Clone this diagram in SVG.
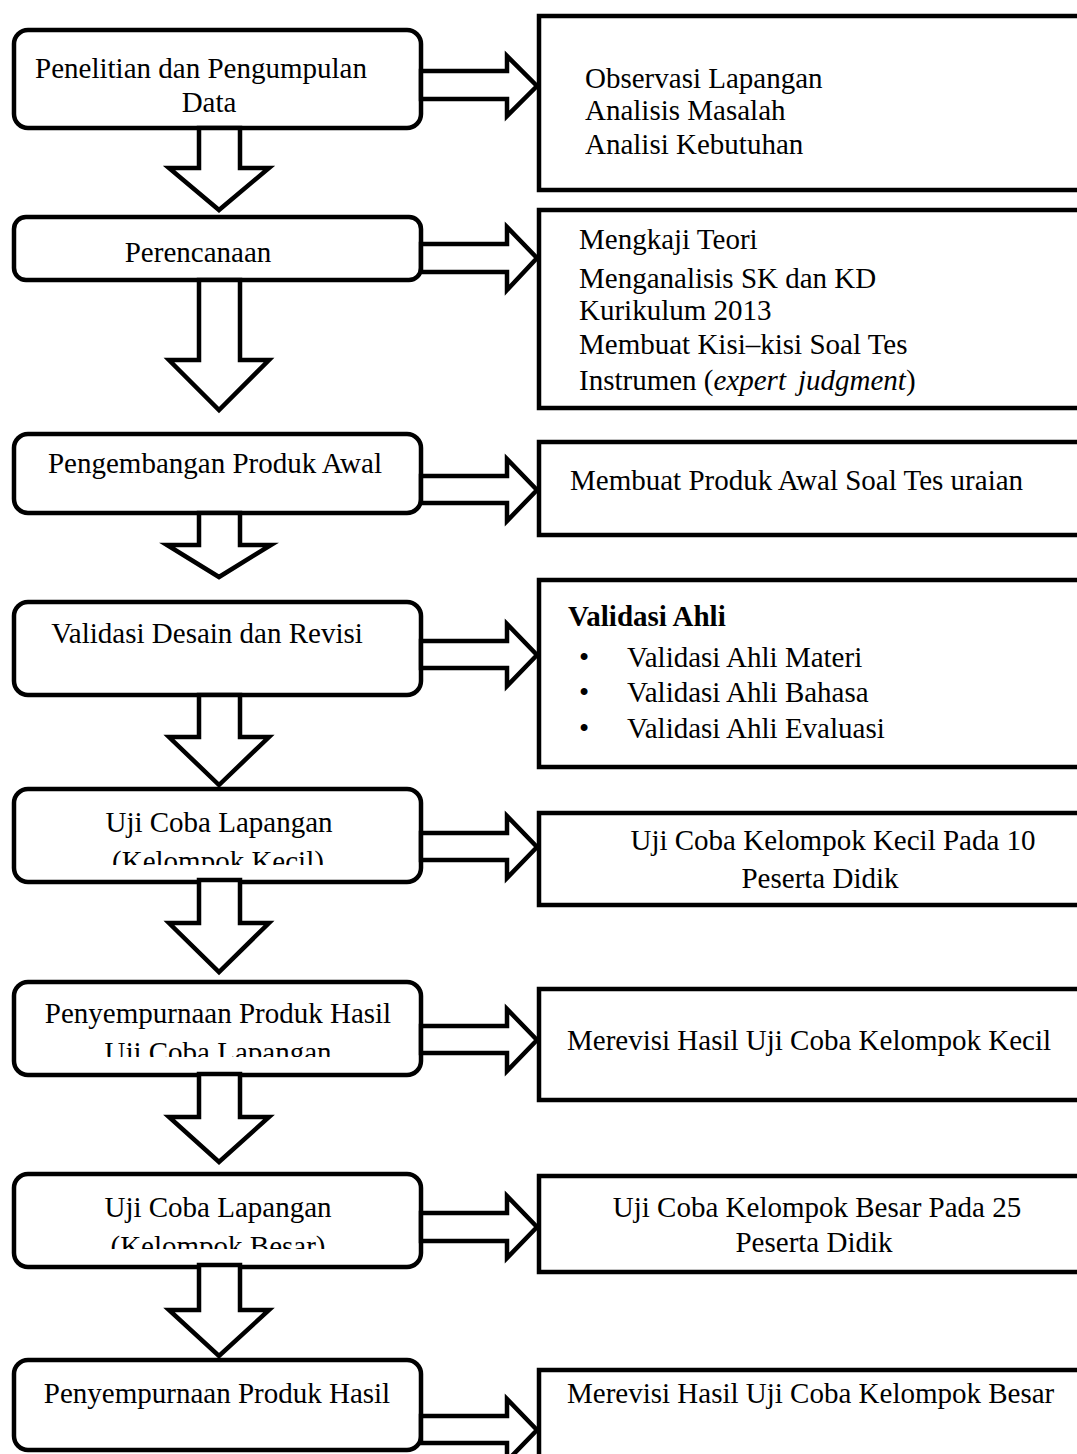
<svg xmlns="http://www.w3.org/2000/svg" width="1077" height="1454" viewBox="0 0 1077 1454">
<style>
  text { font-family: "Liberation Serif", "Times New Roman", serif; font-size: 29px; fill: #000; }
  .c { text-anchor: middle; }
  .lbox { fill: #fff; stroke: #000; stroke-width: 4.5; }
  .rbox { fill: #fff; stroke: #000; stroke-width: 4.5; }
  .arr { fill: #fff; stroke: #000; stroke-width: 4.5; stroke-linejoin: miter; }
  .b { font-weight: bold; }
  .i { font-style: italic; }
</style>
<defs>
  <clipPath id="clip5"><rect x="14" y="789" width="407" height="76"/></clipPath>
  <clipPath id="clip6"><rect x="14" y="982" width="407" height="75"/></clipPath>
  <clipPath id="clip7"><rect x="14" y="1174" width="407" height="75"/></clipPath>
</defs>
<rect width="1077" height="1454" fill="#fff"/>

<!-- Left column nodes -->
<g id="n1">
  <rect class="lbox" x="14" y="30" width="407" height="98" rx="14"/>
  <text class="c" x="201" y="78">Penelitian dan Pengumpulan</text>
  <text class="c" x="209" y="112">Data</text>
</g>
<g id="n2">
  <rect class="lbox" x="14" y="217" width="407" height="63" rx="12"/>
  <text class="c" x="198" y="262">Perencanaan</text>
</g>
<g id="n3">
  <rect class="lbox" x="14" y="434" width="407" height="79" rx="14"/>
  <text class="c" x="215" y="473">Pengembangan Produk Awal</text>
</g>
<g id="n4">
  <rect class="lbox" x="14" y="602" width="407" height="93" rx="14"/>
  <text class="c" x="207" y="643">Validasi Desain dan Revisi</text>
</g>
<g id="n5">
  <rect class="lbox" x="14" y="789" width="407" height="93" rx="14"/>
  <g clip-path="url(#clip5)">
    <text class="c" x="219" y="832">Uji Coba Lapangan</text>
    <text class="c" x="218" y="871">(Kelompok Kecil)</text>
  </g>
</g>
<g id="n6">
  <rect class="lbox" x="14" y="982" width="407" height="93" rx="14"/>
  <g clip-path="url(#clip6)">
    <text class="c" x="218" y="1023">Penyempurnaan Produk Hasil</text>
    <text class="c" x="218" y="1062">Uji Coba Lapangan</text>
  </g>
</g>
<g id="n7">
  <rect class="lbox" x="14" y="1174" width="407" height="93" rx="14"/>
  <g clip-path="url(#clip7)">
    <text class="c" x="218" y="1217">Uji Coba Lapangan</text>
    <text class="c" x="218" y="1256">(Kelompok Besar)</text>
  </g>
</g>
<g id="n8">
  <rect class="lbox" x="14" y="1360" width="407" height="90" rx="14"/>
  <text class="c" x="217" y="1403">Penyempurnaan Produk Hasil</text>
</g>

<!-- Right column nodes -->
<g id="r1">
  <rect class="rbox" x="539" y="16" width="560" height="174"/>
  <text x="585" y="88">Observasi Lapangan</text>
  <text x="585" y="120">Analisis Masalah</text>
  <text x="585" y="154">Analisi Kebutuhan</text>
</g>
<g id="r2">
  <rect class="rbox" x="539" y="210" width="560" height="198"/>
  <text x="579" y="249">Mengkaji Teori</text>
  <text x="579" y="288">Menganalisis SK dan KD</text>
  <text x="579" y="320">Kurikulum 2013</text>
  <text x="579" y="354">Membuat Kisi–kisi Soal Tes</text>
  <text x="579" y="390">Instrumen (<tspan class="i">expert</tspan><tspan class="i" dx="12">judgment</tspan>)</text>
</g>
<g id="r3">
  <rect class="rbox" x="539" y="442" width="560" height="93"/>
  <text x="570" y="490">Membuat Produk Awal Soal Tes uraian</text>
</g>
<g id="r4">
  <rect class="rbox" x="539" y="580" width="560" height="187"/>
  <text class="b" x="568" y="626">Validasi Ahli</text>
  <text x="579" y="667">•</text>
  <text x="627" y="667">Validasi Ahli Materi</text>
  <text x="579" y="702">•</text>
  <text x="627" y="702">Validasi Ahli Bahasa</text>
  <text x="579" y="738">•</text>
  <text x="627" y="738">Validasi Ahli Evaluasi</text>
</g>
<g id="r5">
  <rect class="rbox" x="539" y="813" width="560" height="92"/>
  <text class="c" x="833" y="850">Uji Coba Kelompok Kecil Pada 10</text>
  <text class="c" x="820" y="888">Peserta Didik</text>
</g>
<g id="r6">
  <rect class="rbox" x="539" y="989" width="560" height="111"/>
  <text x="567" y="1050">Merevisi Hasil Uji Coba Kelompok Kecil</text>
</g>
<g id="r7">
  <rect class="rbox" x="539" y="1176" width="560" height="96"/>
  <text class="c" x="817" y="1217">Uji Coba Kelompok Besar Pada 25</text>
  <text class="c" x="814" y="1252">Peserta Didik</text>
</g>
<g id="r8">
  <rect class="rbox" x="539" y="1370" width="560" height="100"/>
  <text x="567" y="1403">Merevisi Hasil Uji Coba Kelompok Besar</text>
</g>

<!-- Connectors -->
<g id="connectors">
  <!-- down arrows -->
  <polygon class="arr" points="199,128 240,128 240,168 269,168 219,210 169,168 199,168"/>
  <polygon class="arr" points="199,280 240,280 240,360 269,360 219,410 169,360 199,360"/>
  <polygon class="arr" points="199,513 240,513 240,545 271,545 219,577 167,545 199,545"/>
  <polygon class="arr" points="199,695 240,695 240,737 269,737 219,785 169,737 199,737"/>
  <polygon class="arr" points="199,880 240,880 240,923 269,923 219,972 169,923 199,923"/>
  <polygon class="arr" points="199,1074 240,1074 240,1117 269,1117 219,1162 169,1117 199,1117"/>
  <polygon class="arr" points="199,1265 240,1265 240,1310 269,1310 219,1356 169,1310 199,1310"/>
  <!-- right arrows -->
  <polygon class="arr" points="421,71 507,71 507,56 537,86 507,116 507,99 421,99"/>
  <polygon class="arr" points="421,244 507,244 507,227 537,258 507,290 507,272 421,272"/>
  <polygon class="arr" points="421,476 507,476 507,459 537,490 507,521 507,503 421,503"/>
  <polygon class="arr" points="421,641 507,641 507,624 537,655 507,686 507,668 421,668"/>
  <polygon class="arr" points="421,833 507,833 507,816 537,847 507,878 507,860 421,860"/>
  <polygon class="arr" points="421,1026 507,1026 507,1009 537,1040 507,1071 507,1053 421,1053"/>
  <polygon class="arr" points="421,1213 507,1213 507,1196 537,1227 507,1258 507,1241 421,1241"/>
  <polygon class="arr" points="421,1416 507,1416 507,1399 537,1430 507,1461 507,1443 421,1443"/>
</g>
</svg>
